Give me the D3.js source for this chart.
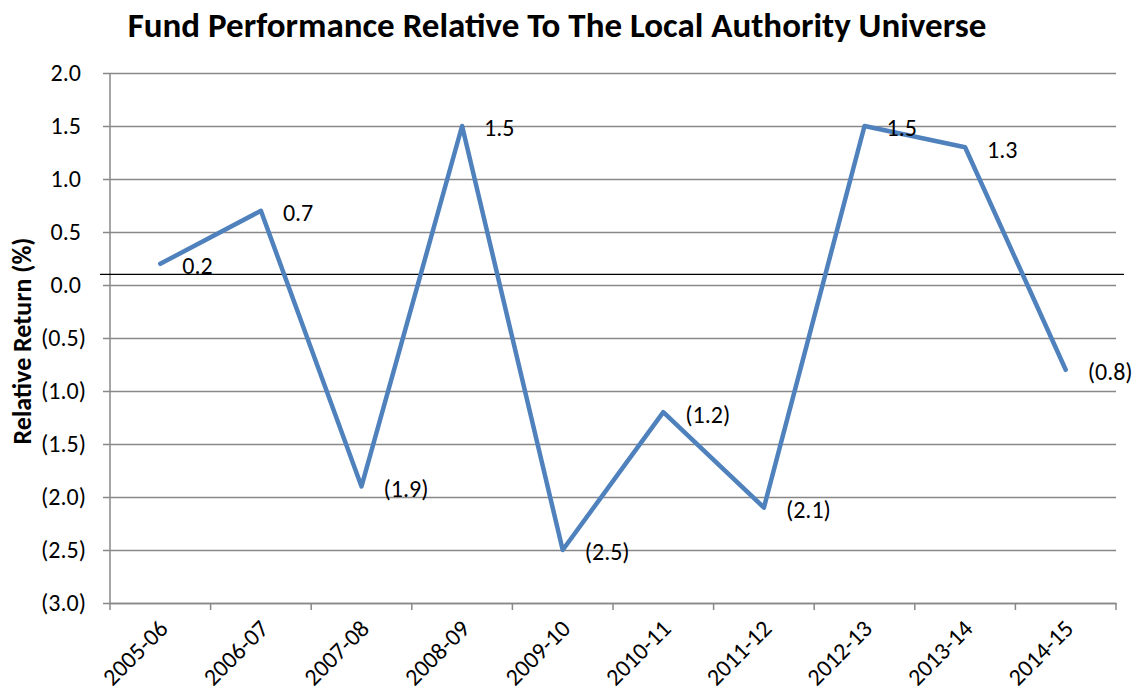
<!DOCTYPE html>
<html>
<head>
<meta charset="utf-8">
<script src="https://cdn.jsdelivr.net/npm/d3@7"></script>
<style>
  body { margin: 0; background: #fff; }
  text { font-family: Carlito, "Open Sans", "Noto Sans", sans-serif; }
</style>
</head>
<body>
<div id="chart"></div>
<script>
// chart data
var years = ["2005-06", "2006-07", "2007-08", "2008-09", "2009-10",
  "2010-11", "2011-12", "2012-13", "2013-14", "2014-15"];
var relReturn = [0.2, 0.7, -1.9, 1.5, -2.5, -1.2, -2.1, 1.5, 1.3, -0.8];
var yTicks = [2.0, 1.5, 1.0, 0.5, 0.0, -0.5, -1.0, -1.5, -2.0, -2.5, -3.0];
var refLevel = [0.1]; // black reference line

var W = 1136, H = 696;
var margin = { top: 73, right: 20, bottom: 93, left: 110 },
  width = W - margin.left - margin.right,
  height = H - margin.top - margin.bottom;

var svg = d3.select("#chart").append("svg")
  .attr("width", W)
  .attr("height", H);

svg.append("text")
  .attr("x", 557)
  .attr("y", 37)
  .attr("text-anchor", "middle")
  .style("font-size", "35px")
  .style("font-weight", "bold")
  .text("Fund  Performance Relative To The Local Authority Universe");

var g = svg.append("g")
  .attr("transform", "translate(" + margin.left + "," + margin.top + ")");

var x = d3.scaleBand()
  .domain(years)
  .range([0, width]);

var y = d3.scaleLinear()
  .domain([-3, 2])
  .range([height, 0]);

function fmt(v) {
  var s = Math.abs(v).toFixed(1);
  return v < 0 ? "(" + s + ")" : s;
}

// gridlines + y axis
var yAxis = g.append("g")
  .call(d3.axisLeft(y).tickValues(yTicks).tickFormat(fmt)
    .tickSize(-width).tickSizeOuter(0).tickPadding(24));
yAxis.select(".domain").remove();
yAxis.selectAll(".tick line")
  .attr("x1", -7)
  .attr("stroke", "#888")
  .attr("stroke-width", 1.5);
yAxis.selectAll(".tick text")
  .style("font-size", "24px")
  .attr("fill", "#000")
  .attr("dx", function (d) { return d < 0 ? 0 : -5; });

g.append("line")
  .attr("x1", 0).attr("x2", 0)
  .attr("y1", 0).attr("y2", height)
  .attr("stroke", "#888")
  .attr("stroke-width", 1.5);

// x axis
var xAxis = g.append("g")
  .attr("transform", "translate(0," + height + ")")
  .call(d3.axisBottom(x).tickSize(0));
xAxis.select(".domain").attr("stroke", "#888").attr("stroke-width", 1.5);
xAxis.selectAll(".tick text")
  .style("font-size", "24px")
  .attr("fill", "#000")
  .attr("text-anchor", "end")
  .attr("dy", 0)
  .attr("transform", "translate(7,25) rotate(-45)");

// category boundary ticks
var bounds = years.map(function (d) { return x(d); }).concat([width]);
g.selectAll(".xtick")
  .data(bounds)
  .enter()
  .append("line")
  .attr("class", "xtick")
  .attr("x1", function (d) { return d; })
  .attr("x2", function (d) { return d; })
  .attr("y1", height)
  .attr("y2", height + 7)
  .attr("stroke", "#888")
  .attr("stroke-width", 1.5);

// reference line
g.selectAll(".ref")
  .data(refLevel)
  .enter()
  .append("line")
  .attr("class", "ref")
  .attr("x1", -10)
  .attr("x2", width + 8)
  .attr("y1", function (d) { return y(d); })
  .attr("y2", function (d) { return y(d); })
  .attr("stroke", "#000")
  .attr("stroke-width", 1.2);

// series line
var data = years.map(function (d, i) { return { year: d, v: relReturn[i] }; });
var line = d3.line()
  .x(function (d) { return x(d.year) + x.bandwidth() / 2; })
  .y(function (d) { return y(d.v); });

g.append("path")
  .datum(data)
  .attr("d", line)
  .attr("fill", "none")
  .attr("stroke", "#4F81BD")
  .attr("stroke-width", 4.5)
  .attr("stroke-linejoin", "round")
  .attr("stroke-linecap", "round");

// data labels
g.selectAll(".lbl")
  .data(data)
  .enter()
  .append("text")
  .attr("class", "lbl")
  .attr("x", function (d) { return x(d.year) + x.bandwidth() / 2 + 22; })
  .attr("y", function (d) { return y(d.v) + 2; })
  .attr("dy", "0.35em")
  .style("font-size", "24px")
  .text(function (d) { return fmt(d.v); });

// y axis title
svg.append("text")
  .attr("transform", "translate(31,341) rotate(-90)")
  .attr("text-anchor", "middle")
  .style("font-size", "26px")
  .style("font-weight", "bold")
  .text("Relative Return (%)");
</script>
</body>
</html>
